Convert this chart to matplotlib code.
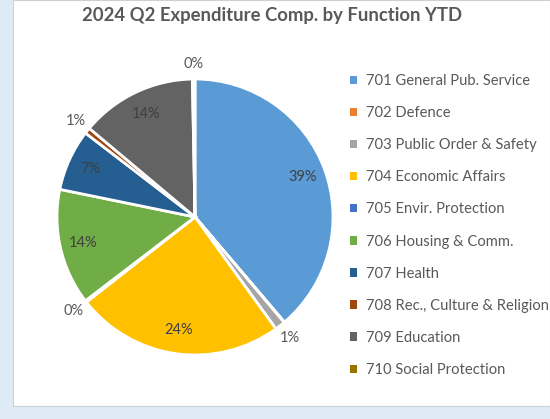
import numpy as np
import matplotlib
matplotlib.use("Agg")
import matplotlib.pyplot as plt
from matplotlib.patches import Rectangle

title = "2024 Q2 Expenditure Comp. by Function YTD"
categories = ["701 General Pub. Service", "702 Defence", "703 Public Order & Safety",
              "704 Economic Affairs", "705 Envir. Protection", "706 Housing & Comm.",
              "707 Health", "708 Rec., Culture & Religion", "709 Education",
              "710 Social Protection"]
shares = [38.8, 0.05, 1.2, 24.4, 0.2, 13.6, 7.2, 0.7, 13.6, 0.3]
show_label = [True, False, True, True, True, True, True, True, True, True]
colors = ["#5B9BD5", "#ED7D31", "#A5A5A5", "#FFC000", "#4472C4", "#70AD47",
          "#255E91", "#9E480E", "#636363", "#997300"]

plt.rcParams['font.family'] = ['Lato', 'DejaVu Sans']
W, H = 550, 419
fig = plt.figure(figsize=(W / 100, H / 100), dpi=100)
fig.patch.set_facecolor("#DEEBF7")
fig.patches.append(Rectangle((13 / W, 1 - 406 / H), (W - 13) / W, 406 / H,
                             transform=fig.transFigure, facecolor="white",
                             edgecolor="#D0D0D0", linewidth=0.8, zorder=-5))

fig.text(272 / W, 1 - 16 / H, title, ha="center", va="center", fontsize=13.3,
         fontweight="bold", color="#595959")

cx, cy, R = 195, 217, 138
ax = fig.add_axes([(cx - R) / W, (H - cy - R) / H, 2 * R / W, 2 * R / H])
ax.set_zorder(2)
wedges, _ = ax.pie(shares, colors=colors, startangle=90, counterclock=False,
                   radius=1.0, wedgeprops=dict(edgecolor="white", linewidth=2))
ax.set_xlim(-1, 1)
ax.set_ylim(-1, 1)
ax.set_aspect("equal")
ax.axis("off")

total = sum(shares)
for w, v, show in zip(wedges, shares, show_label):
    if not show:
        continue
    mid = np.deg2rad((w.theta1 + w.theta2) / 2)
    pct = f"{round(v / total * 100):.0f}%"
    if v >= 3:
        r, col = 0.83, "#404040"
    else:
        r, col = 1.11, "#595959"
    ax.text(r * np.cos(mid), r * np.sin(mid), pct, ha="center", va="center",
            fontsize=10.5, color=col)

leg = fig.legend(wedges, categories, loc="upper left",
                 bbox_to_anchor=(350 / W, 1 - 74 / H), frameon=False,
                 fontsize=10.6, labelcolor="#595959", handlelength=0.5,
                 handleheight=0.5, handletextpad=0.6, labelspacing=1.23,
                 borderaxespad=0, borderpad=0)
for h in leg.legend_handles:
    h.set_edgecolor("none")

fig.savefig("out.png", dpi=100, facecolor=fig.get_facecolor())
